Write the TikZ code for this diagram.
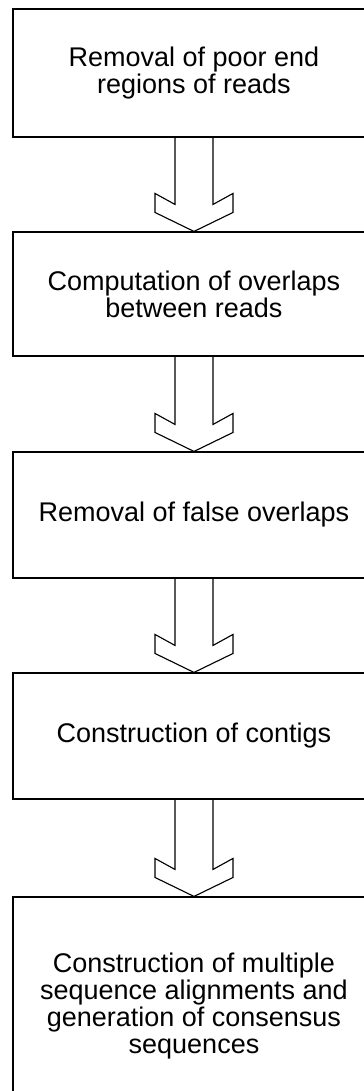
\documentclass[tikz,border=0pt]{standalone}
\usepackage{fontspec}
\setmainfont{Liberation Sans}

\tikzset{
  stagebox/.style={draw, line width=.8pt, minimum width=9.05cm, align=center,
    inner sep=0pt, font=\fontsize{19.2}{19.4}\selectfont},
  blockarrow/.style={draw, line width=.8pt, line join=miter}
}
% hollow arrow from the bottom of one box to the top of the next
\newcommand{\stagearrow}[2]{%
  \draw[blockarrow] ([xshift=-.475cm]#1.south) -- ([xshift=-.475cm,yshift=.675cm]#2.north)
    -- ([xshift=-.975cm,yshift=.95cm]#2.north) -- ([xshift=-.975cm,yshift=.475cm]#2.north)
    -- (#2.north) -- ([xshift=.975cm,yshift=.475cm]#2.north)
    -- ([xshift=.975cm,yshift=.95cm]#2.north) -- ([xshift=.475cm,yshift=.675cm]#2.north)
    -- ([xshift=.475cm]#1.south);}

\begin{document}
\begin{tikzpicture}
\useasboundingbox (0,0) rectangle (9.1,-27.275);
\clip (0,0) rectangle (9.1,-27.275);
\node [stagebox, minimum height=3.2cm] (s1) at (4.85,-1.825) {Removal of poor end\\regions of reads};
\node [stagebox, minimum height=3.1cm] (s2) at (4.85,-7.35) {Computation of overlaps\\between reads};
\node [stagebox, minimum height=3.15cm] (s3) at (4.85,-12.875) {Removal of false overlaps};
\node [stagebox, minimum height=3.15cm] (s4) at (4.85,-18.4) {Construction of contigs};
\node [stagebox, minimum height=5.45cm] (s5) at (4.85,-25.15) {Construction of multiple\\sequence alignments and\\generation of consensus\\sequences};
\stagearrow{s1}{s2}
\stagearrow{s2}{s3}
\stagearrow{s3}{s4}
\stagearrow{s4}{s5}
\end{tikzpicture}
\end{document}
